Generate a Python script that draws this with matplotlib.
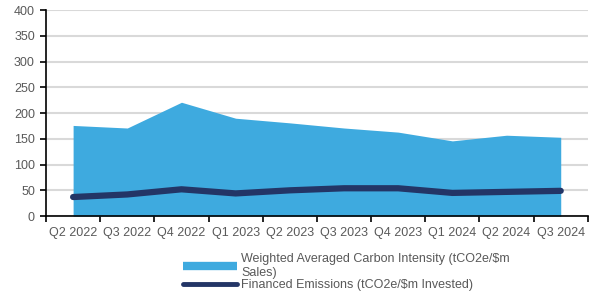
import numpy as np
import matplotlib.pyplot as plt
from matplotlib.lines import Line2D

# dados
trimestres = ['Q2 2022', 'Q3 2022', 'Q4 2022', 'Q1 2023', 'Q2 2023',
              'Q3 2023', 'Q4 2023', 'Q1 2024', 'Q2 2024', 'Q3 2024']
waci = [176, 171, 221, 190, 181, 171, 163, 146, 157, 153]
financiadas = [37, 42, 52, 44, 50, 54, 54, 45, 47, 49]

plt.rcParams['font.family'] = ['Liberation Sans', 'DejaVu Sans']
cinza = '#595959'
azul = '#3eaadf'
marinho = '#233566'

fig = plt.figure(figsize=(6, 2.96), dpi=100)
ax = fig.add_axes([0.0767, 0.270, 0.903, 0.696])

x = np.arange(len(trimestres))
ax.fill_between(x, 0, waci, color=azul, lw=0, zorder=2)
ax.plot(x, financiadas, color=marinho, lw=4.5, solid_capstyle='round',
        solid_joinstyle='round', zorder=3)

ax.set_xlim(-0.5, len(trimestres) - 0.5)
ax.set_ylim(0, 400)
ax.set_yticks(range(0, 401, 50))
ax.yaxis.grid(True, color='#d9d9d9', lw=1.5, zorder=1)
ax.set_axisbelow(True)

ax.set_xticks(x)
ax.set_xticklabels(trimestres)
ax.set_xticks(np.arange(-0.5, len(trimestres)), minor=True)
ax.tick_params(axis='x', which='major', length=0, pad=8, labelsize=9, labelcolor=cinza)
ax.tick_params(axis='x', which='minor', length=4, width=1.2, color='black')
ax.tick_params(axis='y', length=4, width=1.2, labelsize=9, labelcolor=cinza, pad=4)

for lado in ['top', 'right']:
    ax.spines[lado].set_visible(False)
ax.spines['left'].set_linewidth(1.2)
ax.spines['bottom'].set_linewidth(1.2)

alcas = [Line2D([0], [0], color=azul, lw=6, solid_capstyle='butt'),
         Line2D([0], [0], color=marinho, lw=3.5, solid_capstyle='round')]
rotulos = ['Weighted Averaged Carbon Intensity (tCO2e/$m\nSales)',
           'Financed Emissions (tCO2e/$m Invested)']
leg = fig.legend(alcas, rotulos, loc='upper left', bbox_to_anchor=(0.295, 0.165),
                 frameon=False, fontsize=9, handlelength=4.3, handletextpad=0.35,
                 labelspacing=0.0, borderpad=0)
for t in leg.get_texts():
    t.set_color(cinza)

plt.savefig('out.png', dpi=100)
